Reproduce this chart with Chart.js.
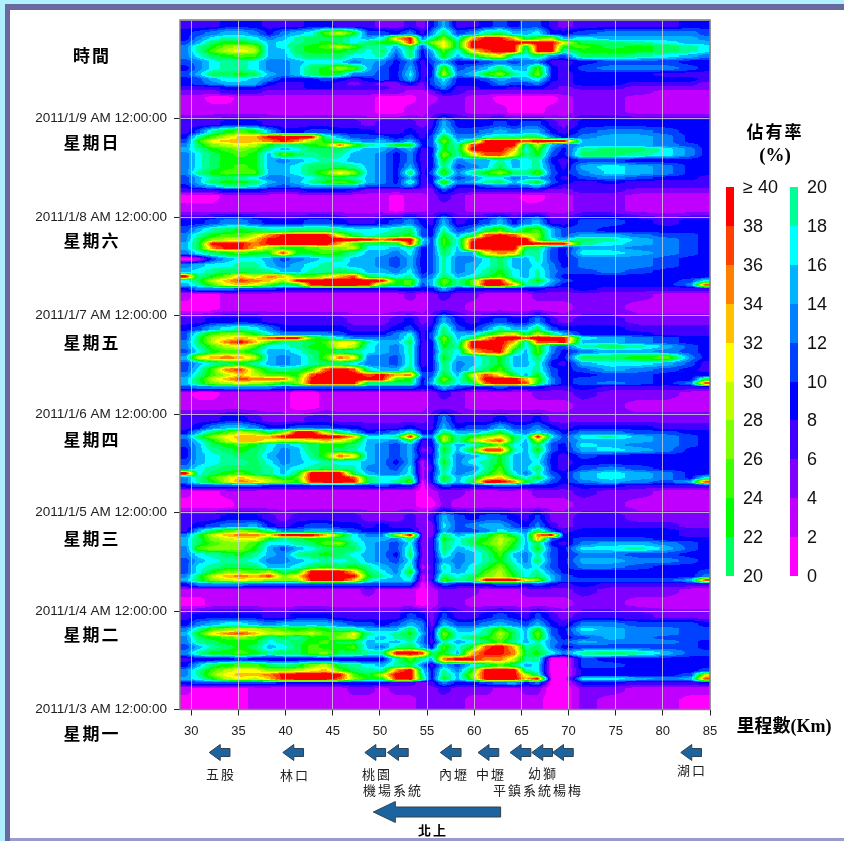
<!DOCTYPE html>
<html lang="zh-Hant">
<head>
<meta charset="utf-8">
<title>佔有率</title>
<style>
  html, body { margin: 0; padding: 0; background: #fff; overflow: hidden; }
  #page { position: relative; width: 844px; height: 841px; background: #fff; overflow: hidden; }
  .frame { position: absolute; }
  #chart { position: absolute; left: 0; top: 0; }
  .t { position: absolute; transform: translate(-50%, -50%); white-space: nowrap; color: #000;
       font-family: "Noto Sans CJK TC", sans-serif; }
  .day { font-size: 17px; font-weight: 700; letter-spacing: 2px; }
  .place { font-size: 13px; letter-spacing: 2px; color: #222; }
  .num { font-family: "Liberation Sans", Arial, sans-serif; font-size: 18px; color: #111; transform: translate(0, -50%); }
  .serif { font-family: "Liberation Serif", "Noto Sans CJK TC", serif; font-weight: 700; }
  .seg { position: absolute; width: 8px; }
</style>
</head>
<body>
<div id="page">
  <div class="frame" style="left:0;top:0;width:844px;height:4px;background:#aff0ff"></div>
  <div class="frame" style="left:0;top:0;width:5px;height:841px;background:#aff0ff"></div>
  <div class="frame" style="left:5px;top:4px;width:839px;height:6px;background:#6969a0"></div>
  <div class="frame" style="left:5px;top:4px;width:5px;height:837px;background:#6969a0"></div>
  <div class="frame" style="left:10px;top:838px;width:834px;height:3px;background:#9a9acc"></div>

  <canvas id="chart" width="844" height="841"></canvas>

  <div class="t day" style="left:92px;top:54px">時間</div>
  <div class="t day" style="left:92px;top:141px">星期日</div>
  <div class="t day" style="left:92px;top:239px">星期六</div>
  <div class="t day" style="left:92px;top:341px">星期五</div>
  <div class="t day" style="left:92px;top:438px">星期四</div>
  <div class="t day" style="left:92px;top:537px">星期三</div>
  <div class="t day" style="left:92px;top:633px">星期二</div>
  <div class="t day" style="left:92px;top:732px">星期一</div>

  <div class="t day" style="left:775px;top:130px">佔有率</div>
  <div class="t serif" style="left:775px;top:155px;font-size:19px">(%)</div>
  <div class="t serif" style="left:784px;top:724px;font-size:18px">里程數(Km)</div>

  <div class="t place" style="left:221px;top:773px">五股</div>
  <div class="t place" style="left:295px;top:774px">林口</div>
  <div class="t place" style="left:377px;top:773px">桃園</div>
  <div class="t place" style="left:393px;top:789px">機場系統</div>
  <div class="t place" style="left:454px;top:773px">內壢</div>
  <div class="t place" style="left:491px;top:773px">中壢</div>
  <div class="t place" style="left:543px;top:772px">幼獅</div>
  <div class="t place" style="left:538px;top:789px">平鎮系統楊梅</div>
  <div class="t place" style="left:692px;top:769px">湖口</div>
  <div class="t place" style="left:433px;top:829px;font-weight:700;color:#000">北上</div>
  <div id="legend"></div>
</div>

<script src="https://cdn.jsdelivr.net/npm/chart.js@4/dist/chart.umd.min.js"></script>
<script>
// road position of the column edges (km) and time of the row edges (hour of day)
const kmEdges = [28.8,30,31.5,33,34.5,36,37.5,39,40.5,42,43.5,45,46.5,48,49.5,51,52.5,54,55,56,57.5,59,60.5,62,63.5,65,66,67.5,69,70,73,76,79,82,84,85];
const hourEdges = [0,4,6,7,8,9,10,11.5,13,14.5,16,17,18,19,20,21.5,24];

const dateLabels = ['2011/1/3 AM 12:00:00','2011/1/4 AM 12:00:00','2011/1/5 AM 12:00:00','2011/1/6 AM 12:00:00','2011/1/7 AM 12:00:00','2011/1/8 AM 12:00:00','2011/1/9 AM 12:00:00',''];

// occupancy (%): one row per hour band, hour 0 first
const mon = [
[1,1,1,1,1,3,3, 3,3,3,3,3,3, 3,3,3,3,5,5, 5,5,3,3,3,3,3,3,0,0, 5,3,3,3,1,1],
[3,1,1,1,1,3,3, 3,3,3,3,3,5, 5,3,5,5,5,5, 7,5,5,5,3,3,5,5,0,0, 5,5,3,3,3,3],
[9,11,11,11,11,11,11, 9,9,9,9,9,9, 9,9,7,7,5,7, 13,9,9,11,13,15,9,13,0,0, 9,9,7,7,7,9],
[15,17,23,29,31,29,33, 39,40,40,40,37,27, 23,23,39,40,21,9, 23,15,25,40,40,40,33,39,0,0, 17,17,15,13,15,37],
[13,19,27,31,33,33,35, 39,40,40,40,39,25, 21,29,40,40,19,9, 21,15,27,40,40,40,29,19,0,0, 9,9,9,9,11,29],
[13,19,25,29,31,31,27, 27,29,31,33,25,21, 19,19,35,40,17,9, 19,13,23,40,40,40,19,17,0,0, 9,9,9,9,9,11],
[9,15,21,23,25,25,21, 19,21,27,29,21,19, 17,15,19,21,13,7, 15,11,17,21,25,21,15,17,0,0, 11,11,9,9,9,9],
[7,9,9,9,11,9,9, 9,9,9,9,9,9, 9,9,19,25,19,15, 35,39,39,35,35,29,19,19,0,0, 11,9,9,9,9,9],
[13,19,23,23,25,23,19, 21,21,25,27,21,21, 19,19,39,40,37,21, 23,15,33,39,39,35,21,23,17,13, 19,21,19,15,11,11],
[11,15,19,21,23,21,15, 17,21,25,23,23,25, 15,13,19,21,15,9, 25,17,23,37,40,33,19,21,13,9, 11,11,11,11,11,9],
[13,19,21,23,23,23,17, 19,21,23,25,21,21, 15,17,15,19,13,7, 19,15,17,21,25,19,15,19,13,11, 15,13,13,13,11,9],
[13,21,23,25,27,25,19, 21,19,23,23,27,29, 17,15,19,21,13,7, 25,17,21,23,27,21,15,25,13,9, 11,15,13,11,11,11],
[15,23,31,35,37,33,29, 29,27,29,25,25,31, 19,17,19,23,15,7, 27,17,17,19,29,21,15,27,11,9, 15,15,13,13,11,11],
[13,19,25,27,29,29,27, 25,23,25,23,19,19, 15,15,15,21,13,7, 23,15,15,19,25,19,15,23,11,9, 17,15,13,13,11,11],
[9,13,15,17,17,15,13, 15,15,15,15,13,11, 11,9,11,15,13,5, 15,11,11,13,15,13,11,15,9,7, 13,13,11,11,11,9],
[7,9,9,9,9,9,7, 7,9,9,9,7,7, 7,7,7,11,9,5, 11,7,7,9,11,9,7,11,7,5, 7,7,7,5,5,5]
];
const tue = [
[1,1,3,3,3,3,3, 3,3,3,3,3,3, 3,3,3,3,1,3, 5,5,3,3,3,3,3,3,3,3, 5,5,3,3,3,3],
[3,3,3,3,3,3,3, 3,3,3,3,3,3, 5,3,3,3,1,3, 5,5,5,3,3,3,5,5,5,5, 7,5,5,5,3,3],
[9,13,13,13,13,11,11, 11,11,11,11,11,11, 11,11,11,11,1,5, 11,9,9,9,11,11,9,11,9,7, 9,7,7,7,7,7],
[15,21,27,29,31,29,27, 27,27,39,40,40,33, 19,15,15,17,3,7, 25,19,21,40,40,40,31,27,15,11, 11,11,11,11,15,37],
[13,21,29,33,35,33,37, 27,31,40,40,40,39, 23,19,15,19,3,7, 21,17,21,27,29,23,17,21,15,11, 9,9,9,9,9,13],
[11,17,23,27,27,25,29, 21,23,40,40,40,33, 21,17,13,23,5,7, 17,15,17,25,29,21,17,19,13,9, 9,9,9,9,9,11],
[11,17,19,21,21,21,15, 15,17,21,23,21,23, 19,15,13,19,3,7, 19,13,17,21,27,19,15,17,11,9, 13,13,11,9,9,9],
[11,15,17,19,19,17,13, 13,15,17,19,17,19, 15,13,11,17,5,7, 15,13,15,19,23,17,13,21,11,9, 15,15,13,13,11,9],
[13,17,19,21,23,19,15, 13,19,21,23,21,17, 15,13,9,21,5,7, 19,13,15,19,25,15,13,19,11,9, 13,13,11,11,9,9],
[13,25,27,27,27,23,15, 11,15,17,21,21,21, 15,13,11,19,5,7, 21,15,17,21,27,21,15,23,11,9, 17,17,19,15,11,9],
[15,21,25,27,27,25,17, 17,19,21,25,27,19, 15,13,11,17,5,7, 21,17,21,25,29,23,15,21,9,7, 13,15,15,13,11,9],
[15,21,27,29,31,31,23, 19,21,23,23,21,17, 15,15,13,21,5,7, 23,17,21,23,29,25,15,33,11,9, 11,11,11,9,9,9],
[13,21,29,33,35,35,31, 39,39,39,33,25,17, 13,13,27,39,5,5, 21,15,17,21,27,21,15,35,39,9, 9,9,9,9,7,7],
[7,15,21,25,27,25,19, 13,13,15,15,13,11, 9,9,9,9,5,5, 15,11,11,13,17,15,13,21,11,7, 9,9,9,9,7,7],
[7,9,11,13,13,15,9, 7,9,11,11,9,9, 7,9,7,7,5,5, 17,11,13,15,15,11,9,13,7,5, 7,7,7,7,5,5],
[7,7,7,9,9,9,7, 5,7,7,7,7,7, 5,5,5,7,5,7, 15,11,9,11,11,9,7,11,5,5, 7,7,5,5,5,5]
];
const wed = [
[1,1,1,1,3,3,3, 3,3,3,3,3,3, 3,3,3,3,1,1, 5,3,3,3,3,3,3,3,3,3, 5,5,3,3,3,3],
[3,1,1,3,3,3,3, 3,3,3,3,3,3, 3,3,3,3,1,3, 5,5,3,3,3,3,3,5,5,5, 7,5,5,3,3,3],
[9,11,11,11,11,11,9, 9,9,9,9,9,9, 9,11,9,9,1,5, 11,9,9,9,11,11,9,9,9,7, 9,9,7,7,7,7],
[13,19,23,29,35,33,29, 27,23,39,40,40,39, 21,17,19,25,1,9, 21,15,21,40,40,35,23,17,11,9, 13,15,13,11,15,37],
[13,19,25,29,33,29,27, 21,25,40,40,40,37, 21,17,17,21,3,9, 23,15,19,29,33,23,17,23,13,9, 15,17,15,13,9,17],
[40,17,21,23,25,21,19, 15,21,40,40,40,21, 15,13,13,17,3,9, 19,13,15,21,27,17,13,19,11,9, 15,17,15,13,9,9],
[13,17,19,21,21,21,19, 15,17,19,21,19,19, 13,13,11,17,3,7, 21,13,13,19,25,15,15,21,9,7, 11,13,11,9,9,9],
[11,15,17,19,19,21,17, 13,15,17,19,17,17, 15,13,9,15,3,9, 23,13,17,19,23,15,15,17,9,7, 9,9,9,9,9,9],
[9,15,17,19,21,21,15, 13,15,19,25,35,31, 15,13,11,15,7,9, 21,13,15,17,23,15,15,19,9,7, 11,9,9,9,9,9],
[9,15,19,21,23,21,17, 13,15,21,23,21,19, 15,13,11,15,5,7, 23,15,23,37,37,19,15,23,11,9, 15,17,15,13,9,9],
[11,15,21,23,25,23,17, 15,17,21,23,23,21, 15,13,11,15,7,9, 21,15,17,21,27,17,15,21,11,9, 17,15,13,13,11,9],
[11,17,23,29,33,33,31, 29,29,31,33,31,25, 15,15,13,23,7,9, 29,19,27,33,37,21,15,29,13,11, 15,15,15,13,11,9],
[13,21,27,31,33,33,33, 39,40,40,40,39,33, 17,17,19,39,15,13, 29,19,23,27,31,21,17,39,17,11, 17,19,15,13,11,9],
[9,15,21,25,29,27,21, 27,40,40,29,21,15, 9,11,13,19,9,9, 21,15,15,17,23,15,13,17,13,9, 13,13,11,11,9,9],
[7,9,13,15,15,13,9, 9,11,11,11,9,9, 7,7,7,9,7,7, 15,9,11,11,15,11,11,13,9,7, 9,9,9,7,7,7],
[7,7,7,9,9,7,5, 5,5,7,7,5,5, 5,5,5,5,5,7, 13,7,7,7,9,7,7,9,5,5, 5,5,5,5,5,5]
];
const thu = [
[3,3,3,3,3,3,3, 3,1,1,3,3,3, 3,3,3,3,3,5, 5,5,3,3,3,3,3,3,3,3, 5,5,3,3,3,3],
[3,1,1,3,3,3,3, 3,1,1,3,3,3, 3,3,3,3,3,5, 7,5,3,3,3,3,3,5,5,5, 7,5,5,5,3,3],
[11,13,13,13,13,13,13, 11,11,11,11,11,11, 11,11,11,11,9,9, 15,11,9,9,11,9,9,9,7,7, 9,7,7,7,7,7],
[15,21,27,29,31,29,27, 23,27,39,40,40,39, 21,21,21,21,9,15, 23,17,21,37,40,40,37,23,13,9, 11,13,11,9,13,37],
[15,21,29,33,37,35,35, 35,25,39,40,40,40, 39,39,25,23,9,13, 27,17,25,40,40,40,33,25,13,9, 11,11,11,9,9,21],
[13,19,25,29,33,29,25, 25,23,37,40,40,40, 37,39,33,35,11,11, 23,15,29,37,31,21,15,23,11,9, 9,11,11,9,9,9],
[11,17,25,35,37,27,21, 19,21,25,37,40,37, 19,15,15,21,9,9, 21,13,17,21,25,17,17,19,11,9, 11,15,13,11,9,7],
[11,15,19,21,23,19,15, 13,15,19,21,21,17, 13,13,11,19,7,9, 21,13,15,19,23,15,15,19,9,7, 15,17,17,15,11,7],
[15,29,33,35,33,29,15, 13,15,19,25,35,31, 13,13,11,19,7,9, 23,15,15,19,23,15,15,21,11,9, 21,21,23,25,13,9],
[11,17,23,25,25,21,15, 15,17,21,23,21,19, 17,15,13,19,7,9, 21,17,33,37,39,21,15,25,13,9, 13,15,15,13,11,9],
[13,19,25,29,31,25,17, 17,19,23,23,31,29, 17,15,13,19,7,9, 23,19,39,40,40,27,17,25,13,11, 19,21,19,15,11,9],
[13,21,29,35,39,33,25, 19,19,21,25,31,31, 19,15,15,21,7,9, 25,17,39,40,40,33,17,37,37,39, 15,15,13,11,9,9],
[11,21,29,31,33,31,37, 39,39,25,21,17,13, 13,13,13,19,7,11, 27,15,21,33,40,40,37,40,40,40, 17,15,13,11,9,9],
[11,19,25,27,27,23,17, 13,13,13,13,11,9, 9,9,13,17,7,11, 21,15,15,21,27,31,21,29,21,15, 9,9,9,7,7,7],
[9,11,15,17,19,17,13, 9,9,9,9,9,7, 7,7,9,11,7,9, 21,11,9,13,19,15,15,21,11,9, 9,9,7,7,7,7],
[7,7,9,9,9,9,7, 7,7,7,7,7,5, 5,5,7,9,5,7, 15,9,7,9,11,9,9,13,7,5, 7,7,5,5,5,5]
];
const fri = [
[1,1,1,3,3,3,3, 3,3,3,3,3,3, 3,3,3,3,3,5, 5,5,3,3,3,3,3,3,3,3, 5,5,3,3,3,3],
[3,1,1,3,3,3,3, 3,3,3,3,3,3, 3,3,3,5,3,5, 7,5,5,3,3,3,3,5,5,5, 5,5,5,3,3,3],
[9,13,13,13,11,11,11, 9,9,9,9,9,9, 9,9,9,9,9,9, 15,9,9,9,9,9,9,9,7,7, 9,7,7,7,7,7],
[15,19,25,31,33,31,25, 21,23,39,40,40,40, 39,25,23,25,11,15, 25,19,25,40,40,33,19,19,13,9, 9,9,9,9,13,37],
[17,21,29,33,37,35,33, 27,39,40,40,40,40, 40,39,23,25,13,15, 27,19,25,39,39,23,17,23,15,11, 9,9,9,9,11,17],
[40,19,23,27,33,29,35, 33,25,25,29,33,37, 21,19,17,19,11,13, 21,15,17,21,25,17,15,19,13,9, 9,9,9,9,9,9],
[15,17,19,21,21,21,19, 15,15,19,19,21,19, 15,15,13,17,9,11, 19,13,15,19,23,17,15,19,13,11, 11,13,11,9,9,9],
[13,15,17,17,19,19,15, 13,15,17,19,17,15, 15,13,11,15,9,11, 19,13,15,17,21,15,15,17,13,9, 13,13,13,11,9,9],
[1,3,11,15,17,17,15, 11,13,15,17,19,15, 15,13,11,15,9,11, 19,13,13,17,21,15,15,19,11,9, 13,13,13,11,9,9],
[13,17,21,23,25,23,23, 37,23,23,25,23,19, 15,15,13,17,9,11, 21,15,15,31,35,33,19,19,11,9, 17,17,15,13,11,9],
[15,21,35,39,39,33,27, 23,23,25,27,27,29, 17,17,15,19,9,11, 23,15,39,40,40,40,21,21,11,9, 15,15,13,13,11,9],
[15,21,39,40,39,35,39, 40,40,40,40,33,25, 21,21,21,39,15,11, 25,17,39,40,40,39,40,39,39,39, 19,17,15,13,11,9],
[13,21,27,29,29,33,39, 39,40,40,40,40,40, 39,35,39,40,17,11, 25,17,37,40,40,40,40,25,17,15, 21,19,15,13,11,9],
[13,19,23,25,25,29,35, 39,40,40,40,29,21, 17,19,21,23,11,9, 23,15,21,37,39,37,29,27,15,11, 15,15,13,11,11,9],
[11,15,19,21,23,21,19, 19,21,21,21,19,17, 17,17,19,21,11,9, 19,11,13,21,25,17,23,25,15,11, 11,9,9,9,9,9],
[9,9,11,13,13,11,9, 9,9,11,11,9,7, 7,9,11,13,9,7, 15,7,9,11,15,9,13,15,7,7, 11,11,9,7,9,9]
];
const sat = [
[3,3,3,3,3,3,3, 3,3,3,3,3,3, 3,3,1,3,3,5, 5,5,3,3,3,3,3,3,3,3, 5,5,3,3,3,3],
[1,1,1,3,3,3,3, 3,3,3,3,3,3, 3,3,1,3,3,5, 7,5,3,3,3,3,1,1,3,3, 5,5,3,3,3,3],
[7,7,7,9,9,9,7, 7,7,9,9,9,7, 5,5,5,5,5,5, 11,7,7,7,7,7,7,7,5,5, 7,7,5,5,5,5],
[9,13,15,19,19,17,13, 11,13,15,15,15,15, 11,11,11,13,7,7, 17,9,9,11,13,11,13,15,9,7, 7,7,7,7,7,7],
[11,15,21,23,23,21,15, 13,15,19,23,25,23, 15,13,9,19,7,9, 25,13,15,19,21,15,19,23,11,9, 7,9,7,7,7,7],
[11,15,19,21,19,17,13, 13,15,17,21,21,19, 15,13,9,15,7,9, 17,11,13,17,17,13,15,15,11,7, 11,13,11,9,9,7],
[13,19,23,25,25,25,15, 15,17,21,25,31,27, 15,13,9,21,7,11, 25,13,19,23,27,21,19,25,11,9, 13,17,15,13,9,9],
[13,17,21,23,25,23,15, 15,17,21,21,21,19, 15,13,9,15,7,9, 21,11,13,15,21,15,17,19,11,7, 15,17,15,13,9,9],
[13,17,21,23,23,23,15, 13,15,17,19,17,15, 15,13,9,13,7,9, 23,13,15,15,19,15,17,19,9,7, 11,11,9,9,9,9],
[13,17,21,23,25,23,15, 25,21,19,21,19,15, 15,13,9,13,7,9, 27,19,29,37,37,29,19,23,11,9, 21,21,19,17,13,9],
[15,19,23,25,27,25,19, 15,17,21,21,21,17, 15,15,11,15,7,9, 23,19,39,40,40,33,17,25,13,9, 19,21,21,17,13,9],
[13,21,27,29,31,29,23, 19,21,23,25,35,25, 19,17,23,23,9,11, 23,19,37,40,40,39,19,29,15,11, 15,15,15,13,11,9],
[11,23,31,33,33,33,35, 39,35,27,23,19,15, 13,15,11,15,9,11, 27,15,21,39,40,39,37,39,39,39, 15,15,15,13,9,9],
[9,19,25,29,33,33,39, 40,40,39,19,15,11, 11,11,9,11,7,11, 23,13,13,17,19,19,21,21,13,9, 13,15,15,13,9,9],
[7,11,19,23,25,23,15, 9,9,11,11,9,9, 9,7,7,9,7,9, 17,11,11,13,15,13,15,15,9,7, 11,13,13,11,9,9],
[7,7,7,9,9,9,7, 7,7,7,7,7,7, 5,7,7,7,5,7, 15,9,9,9,11,9,11,11,7,5, 9,9,9,9,9,9]
];
const sun = [
[3,3,3,3,3,3,3, 3,3,3,3,3,3, 3,1,1,3,3,5, 5,5,3,3,3,1,1,1,3,3, 5,5,3,3,3,3],
[3,3,1,1,3,3,3, 3,3,3,3,3,3, 3,1,1,1,3,3, 5,5,3,3,1,1,1,1,1,3, 5,5,3,3,3,3],
[5,5,5,7,7,7,5, 5,5,5,5,5,5, 5,5,5,3,3,5, 9,7,5,5,5,5,5,5,5,5, 5,5,5,3,3,3],
[7,7,7,9,9,9,7, 7,7,9,9,7,7, 7,7,5,5,5,9, 13,7,7,9,9,7,9,9,7,5, 7,7,5,5,5,5],
[9,11,13,15,15,15,9, 7,7,9,9,7,5, 7,5,5,9,5,11, 15,9,9,9,13,11,11,13,7,7, 9,9,7,7,7,5],
[9,11,15,17,17,15,13, 9,9,9,11,9,7, 9,11,9,15,7,11, 17,9,9,11,15,13,15,17,9,7, 9,9,9,9,9,7],
[11,15,21,21,23,21,15, 13,15,21,23,21,13, 13,11,9,17,7,9, 29,13,15,23,27,19,17,27,9,7, 9,9,9,7,7,7],
[9,13,17,19,19,17,13, 13,15,21,23,27,25, 15,11,9,15,7,9, 25,11,13,15,21,15,15,25,9,7, 11,13,13,13,11,9],
[11,13,17,19,19,17,13, 13,15,17,17,17,13, 15,13,9,13,7,11, 15,9,9,11,13,11,13,13,7,7, 9,11,11,11,9,9],
[13,17,21,23,25,25,15, 15,19,21,21,21,17, 17,19,11,21,9,13, 23,15,21,27,31,17,17,21,13,11, 21,21,19,17,15,13],
[13,19,25,29,31,29,15, 15,21,23,23,23,21, 17,21,13,21,9,15, 25,17,31,37,40,39,19,39,39,19, 23,23,23,21,19,17],
[13,19,23,27,29,27,15, 17,21,23,25,29,25, 19,19,15,23,11,21, 31,21,39,40,40,39,21,39,39,23, 25,21,23,21,19,17],
[11,15,21,23,23,21,15, 17,19,21,23,21,17, 21,23,23,39,19,27, 31,21,39,40,40,39,39,39,39,31, 21,21,19,17,15,15],
[9,13,17,19,19,17,13, 15,19,21,21,21,17, 15,17,33,39,13,19, 27,17,33,40,39,33,21,25,29,15, 17,15,15,15,15,13],
[9,11,13,15,15,13,9, 13,15,17,25,29,23, 11,11,9,13,7,13, 21,11,13,19,21,15,15,17,9,9, 11,13,13,13,13,11],
[7,7,7,9,9,9,7, 7,7,9,9,7,7, 7,5,5,7,5,9, 15,7,7,9,11,9,11,11,7,5, 7,7,7,7,9,9]
];
const week = [mon, tue, wed, thu, fri, sat, sun];

// one colour per 2 % band, 0-2 first
const bandColors = ['#ff00ff','#c000ff','#8000ff','#4000ff','#0000ff','#0040ff','#0080ff','#00b4ff','#00ffff','#00ff99',
                    '#00ff60','#00ff00','#40ff00','#80ff00','#c0ff00','#ffff00','#ffc000','#ff8000','#ff4000','#ff0000'];
const legendLeft  = ['≥ 40','38','36','34','32','30','28','26','24','22','20'];
const legendRight = ['20','18','16','14','12','10','8','6','4','2','0'];

// interchange arrows: km of the tip
const arrowKm = [31.9,39.7,48.4,50.8,56.4,60.4,63.8,66.1,68.3,81.9];

const colMid = kmEdges.slice(0, -1).map((k, i) => (k + kmEdges[i + 1]) / 2);
const rowMid = hourEdges.slice(0, -1).map((h, i) => (h + hourEdges[i + 1]) / 48);
const rows = week.flat();
const rowTime = week.flatMap((_, d) => rowMid.map(m => d + m));

const cells = [];
rows.forEach((row, r) => row.forEach((v, c) => cells.push({ x: colMid[c], y: rowTime[r], v })));

// position of t between its two neighbours in a sorted list: [index, fraction]
function locate(list, t) {
  if (t <= list[0]) return [0, 0];
  for (let i = 0; i < list.length - 1; i++) {
    if (t <= list[i + 1]) return [i, (t - list[i]) / (list[i + 1] - list[i])];
  }
  return [list.length - 2, 1];
}

/* ── painted like the original surface chart: colour bands between the cell centres ── */
const heatPlugin = {
  id: 'heat',
  beforeDatasetsDraw(chart) {
    const { ctx, chartArea: a, scales: { x, y } } = chart;
    const cols = [];
    for (let px = Math.round(a.left); px < a.right; px++) cols.push(locate(colMid, x.getValueForPixel(px + 0.5)));
    for (let py = Math.round(a.top); py < a.bottom; py++) {
      const [r, f0] = locate(rowTime, y.getValueForPixel(py + 0.5));
      const f = Math.min(1, Math.max(0, (f0 - 0.15) / 0.7));   // rows stay a little streaky
      const lo = rows[r], hi = rows[r + 1];
      let start = Math.round(a.left), band = -1;
      cols.forEach(([c, g], i) => {
        const v = (lo[c] * (1 - g) + lo[c + 1] * g) * (1 - f) + (hi[c] * (1 - g) + hi[c + 1] * g) * f;
        const b = Math.min(19, Math.floor(v / 2));
        if (b !== band) {
          if (band >= 0) {
            ctx.fillStyle = bandColors[band];
            ctx.fillRect(start, py, Math.round(a.left) + i - start, 1);
          }
          band = b;
          start = Math.round(a.left) + i;
        }
      });
      ctx.fillStyle = bandColors[band];
      ctx.fillRect(start, py, Math.round(a.left) + cols.length - start, 1);
    }
  },
  afterDraw(chart) {
    const { ctx, chartArea: a, scales: { x } } = chart;
    ctx.save();
    ctx.strokeStyle = '#808080';
    ctx.lineWidth = 1.5;
    ctx.strokeRect(a.left, a.top, a.right - a.left, a.bottom - a.top);
    arrowKm.forEach(km => drawArrow(ctx, x.getPixelForValue(km), x.getPixelForValue(km + 2.2), 752.5, 8, 4));
    drawArrow(ctx, x.getPixelForValue(49.3), x.getPixelForValue(62.8), 812, 10.5, 5, 22);
    ctx.restore();
  },
};

function drawArrow(ctx, tip, tail, cy, headH, shaftH, headW = 11) {
  ctx.beginPath();
  ctx.moveTo(tip, cy);
  ctx.lineTo(tip + headW, cy - headH);
  ctx.lineTo(tip + headW, cy - shaftH);
  ctx.lineTo(tail, cy - shaftH);
  ctx.lineTo(tail, cy + shaftH);
  ctx.lineTo(tip + headW, cy + shaftH);
  ctx.lineTo(tip + headW, cy + headH);
  ctx.closePath();
  ctx.fillStyle = '#1b649f';
  ctx.strokeStyle = '#33404d';
  ctx.lineWidth = 1;
  ctx.fill();
  ctx.stroke();
}

const gridColor = 'rgba(208,208,218,0.8)';

new Chart(document.getElementById('chart'), {
  type: 'scatter',
  plugins: [heatPlugin],
  data: { datasets: [{ label: '佔有率', data: cells, pointRadius: 0, pointHoverRadius: 0 }] },
  options: {
    responsive: false,
    animation: false,
    layout: { padding: { top: 20, right: 134, left: 0, bottom: 0 } },
    plugins: { legend: { display: false }, tooltip: { enabled: false } },
    scales: {
      x: {
        type: 'linear',
        min: 28.8,
        max: 85,
        afterFit: s => { s.height = 131.5; },
        ticks: {
          stepSize: 5,
          includeBounds: false,
          maxRotation: 0,
          padding: 8,
          color: '#222',
          font: { family: '"Liberation Sans", Arial, sans-serif', size: 13 },
        },
        grid: { color: gridColor, z: 1, tickColor: '#222', tickLength: 6 },
        border: { display: false },
      },
      y: {
        type: 'linear',
        min: 0,
        max: 7,
        afterFit: s => { s.width = 180; },
        ticks: {
          stepSize: 1,
          padding: 7,
          color: '#222',
          font: { family: '"Liberation Sans", Arial, sans-serif', size: 13.5 },
          callback: v => dateLabels[v],
        },
        grid: {
          color: gridColor,
          z: 1,
          tickColor: c => (c.tick && c.tick.value === 7 ? 'transparent' : '#222'),
          tickLength: 6,
        },
        border: { display: false },
      },
    },
  },
});

/* ── colour key ───────────────────────────────────── */
const legend = document.getElementById('legend');
const keyTop = 187, keyStep = 38.9;
function addKey(barX, labelX, labels, firstBand) {
  labels.forEach((txt, i) => {
    const lab = document.createElement('div');
    lab.className = 't num';
    lab.style.left = labelX + 'px';
    lab.style.top = (keyTop + i * keyStep) + 'px';
    lab.textContent = txt;
    legend.appendChild(lab);
    if (i === labels.length - 1) return;
    const seg = document.createElement('div');
    seg.className = 'seg';
    seg.style.left = barX + 'px';
    seg.style.top = (keyTop + i * keyStep) + 'px';
    seg.style.height = (keyStep + 0.5) + 'px';
    seg.style.background = bandColors[firstBand - i];
    legend.appendChild(seg);
  });
}
addKey(726, 743, legendLeft, 19);
addKey(790, 807, legendRight, 9);
</script>
</body>
</html>
